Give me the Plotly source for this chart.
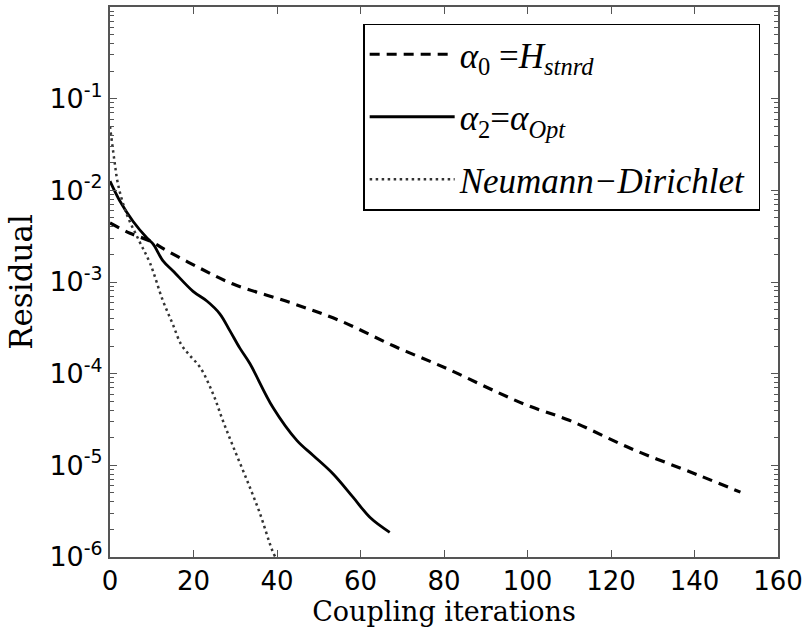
import plotly.graph_objects as go

# Data
iter_alpha0 = [0, 4.8, 9.6, 13.6, 21.6, 29.5, 43, 55, 68, 81, 93, 100, 110, 125, 141, 151]
res_alpha0 = [4.4e-3, 3.4e-3, 2.8e-3, 2.2e-3, 1.41e-3, 9.5e-4, 6.0e-4, 3.8e-4, 2.0e-4,
              1.12e-4, 6.2e-5, 4.5e-5, 3.1e-5, 1.51e-5, 7.8e-6, 5.1e-6]

iter_alpha2 = [0, 2.4, 5.5, 8.9, 10.3, 12.7, 15.1, 19.9, 23.2, 26.3, 28.7, 31.1, 33.5,
               39.0, 44.8, 48.6, 53.4, 58.2, 62.3, 67]
res_alpha2 = [1.26e-2, 7.6e-3, 4.6e-3, 3.0e-3, 2.6e-3, 1.7e-3, 1.32e-3, 7.9e-4, 6.2e-4,
              4.5e-4, 2.95e-4, 1.9e-4, 1.29e-4, 4.3e-5, 1.86e-5, 1.29e-5, 8.1e-6, 4.5e-6,
              2.7e-6, 1.86e-6]

iter_nd = [0, 1, 2, 4, 7, 9.6, 12.7, 15, 17, 19, 21.6, 24.7, 27, 29.5, 32.8, 35.9, 38.8, 39.6]
res_nd = [5.0e-2, 2.2e-2, 1.12e-2, 5.5e-3, 2.8e-3, 1.6e-3, 6.2e-4, 3.5e-4, 2.1e-4, 1.6e-4,
          1.17e-4, 6.0e-5, 3.1e-5, 1.6e-5, 6.9e-6, 3.0e-6, 1.2e-6, 1.0e-6]

x_ticks = [0, 20, 40, 60, 80, 100, 120, 140, 160]
y_tickvals = [1e-6, 1e-5, 1e-4, 1e-3, 1e-2, 1e-1]
y_ticktext = ["10<sup>-6</sup>", "10<sup>-5</sup>", "10<sup>-4</sup>",
              "10<sup>-3</sup>", "10<sup>-2</sup>", "10<sup>-1</sup>"]

names = ["<i>\u03b1</i><sub>0</sub> =<i>H</i><sub><i>stnrd</i></sub>",
         "<i>\u03b1</i><sub>2</sub>=<i>\u03b1</i><sub><i>Opt</i></sub>",
         "<i>Neumann\u2212Dirichlet</i>\u00a0"]

fig = go.Figure()
fig.add_trace(go.Scatter(x=iter_alpha0, y=res_alpha0, mode="lines", name=names[0],
                         legendgroup="a", line=dict(color="black", width=3.2, dash="10px,7px", shape="spline")))
fig.add_trace(go.Scatter(x=iter_alpha2, y=res_alpha2, mode="lines", name=names[1],
                         legendgroup="b", line=dict(color="black", width=2.8, shape="spline")))
fig.add_trace(go.Scatter(x=iter_nd, y=res_nd, mode="lines", name=names[2],
                         legendgroup="c", line=dict(color="#333333", width=2.5, dash="2.5px,3.5px", shape="spline")))

axis_color = "#555555"
fig.update_layout(
    width=809, height=639,
    margin=dict(l=110, r=31, t=5, b=82),
    paper_bgcolor="white", plot_bgcolor="white",
    showlegend=True,
    legend=dict(x=0.379, y=0.970, xanchor="left", yanchor="top",
                bordercolor="black", borderwidth=1.5, bgcolor="white",
                font=dict(family="Liberation Serif", size=35, color="black"),
                tracegroupgap=14, traceorder="grouped",
                itemwidth=85),
    xaxis=dict(range=[0, 160], tickvals=x_ticks, ticks="inside", ticklen=7,
               tickcolor=axis_color, tickwidth=1, showline=True, linecolor=axis_color,
               linewidth=2, mirror="allticks", showgrid=False, zeroline=False,
               tickfont=dict(family="DejaVu Sans", size=26, color="black"),
               title=dict(text="Coupling iterations", standoff=4,
                          font=dict(family="DejaVu Serif", size=27, color="black"))),
    yaxis=dict(type="log", range=[-6, 0], tickvals=y_tickvals, ticktext=y_ticktext,
               ticks="inside", ticklen=7, tickcolor=axis_color, tickwidth=1,
               showline=True, linecolor=axis_color, linewidth=2, mirror="allticks",
               showgrid=False, zeroline=False,
               minor=dict(ticks="inside", ticklen=4, tickcolor=axis_color, dtick="D1", showgrid=False),
               tickfont=dict(family="DejaVu Sans", size=27, color="black"),
               title=dict(text="Residual", standoff=8,
                          font=dict(family="DejaVu Serif", size=31, color="black"))),
)

fig.write_html("out.html", config={"displayModeBar": False},
               post_script="document.body.style.margin='0';document.body.style.overflow='hidden';")
